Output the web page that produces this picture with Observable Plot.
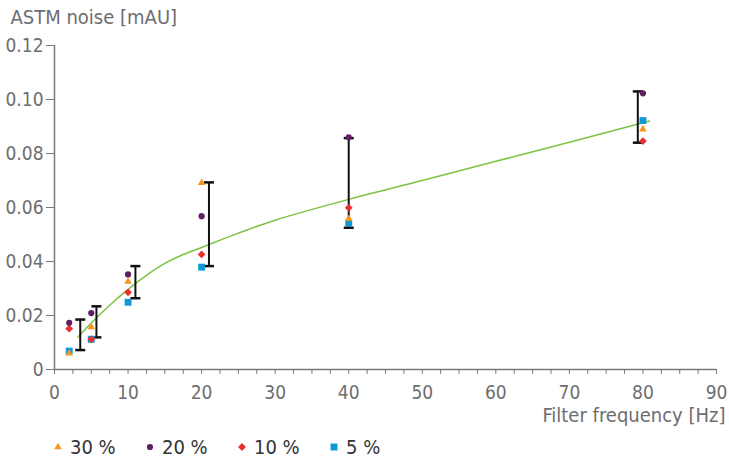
<!DOCTYPE html>
<html><head><meta charset="utf-8">
<script src="https://cdn.jsdelivr.net/npm/d3@7"></script>
<script src="https://cdn.jsdelivr.net/npm/@observablehq/plot@0.6"></script>
<style>
body{margin:0;background:#fff;font-family:"Liberation Sans Narrow","DejaVu Sans Condensed",sans-serif;}
#chart svg{display:block}
#legend{display:flex;padding-left:52px;height:33px;align-items:center;font-size:20px;color:#333;}
.item{display:flex;align-items:center;width:92px;}
.item svg{margin-right:6px;display:block}
</style></head><body>
<div id="chart"></div><div id="legend"></div>
<script>
// categories
const freqs = [2, 5, 10, 20, 40, 80];
const series = ["30 %", "20 %", "10 %", "5 %"];
// series values (ASTM noise, mAU)
const noise30 = [0.0060, 0.0157, 0.0326, 0.0691, 0.0558, 0.0890];
const noise20 = [0.0173, 0.0209, 0.0352, 0.0568, 0.0860, 0.1023];
const noise10 = [0.0151, 0.0112, 0.0286, 0.0426, 0.0599, 0.0846];
const noise5  = [0.0068, 0.0112, 0.0249, 0.0379, 0.0542, 0.0922];
// error bars
const errX    = [3.5, 5.7, 11, 21, 40, 79.3];
const errLow  = [0.0072, 0.0119, 0.0264, 0.0383, 0.0525, 0.0840];
const errHigh = [0.0185, 0.0234, 0.0383, 0.0693, 0.0857, 0.1030];
// fitted trend curve
const fitX = [3.2, 5, 7.5, 10, 12.5, 15, 17.5, 20, 25, 30, 40, 50, 60, 70, 80.9];
const fitY = [0.0120, 0.0172, 0.0238, 0.0297, 0.0349, 0.0393, 0.0426, 0.0452, 0.0505, 0.0553, 0.0630, 0.0700, 0.0771, 0.0842, 0.0920];
// ticks
const xTicks = [0, 10, 20, 30, 40, 50, 60, 70, 80, 90];
const xMinorTicks = d3.range(0, 90.01, 2.5);
const yTicks = [0, 0.02, 0.04, 0.06, 0.08, 0.10, 0.12];

const colors = ["#f7941d", "#5e1f63", "#e8312f", "#0f9ad6"];
const symbols = ["triangle", "circle", "diamond2", "square"];
const sizes = [2.8, 3.1, 3.5, 3.9];
const axisColor = "#7a7a7a";
const textColor = "#6d6e71";

const allValues = [noise30, noise20, noise10, noise5];
const points = [];
series.forEach((s, i) => freqs.forEach((f, j) => points.push({series: s, freq: f, noise: allValues[i][j]})));
const bars = errX.map((x, i) => ({x, lo: errLow[i], hi: errHigh[i]}));
const fit = fitX.map((x, i) => ({x, y: fitY[i]}));

const capSymbol = {draw(context) { context.moveTo(-5, 0); context.lineTo(5, 0); }};

const chart = Plot.plot({
  width: 729,
  height: 430,
  marginLeft: 54,
  marginRight: 13,
  marginTop: 45,
  marginBottom: 61,
  style: {fontFamily: '"Liberation Sans Narrow","DejaVu Sans Condensed",sans-serif', fontSize: "19px", color: textColor, background: "#fff"},
  x: {domain: [0, 90]},
  y: {domain: [0, 0.12]},
  symbol: {domain: series, range: symbols},
  color: {domain: series, range: colors},
  r: {type: "identity"},
  marks: [
    Plot.axisY(yTicks, {tickSize: 8, tickPadding: 3, stroke: axisColor, label: null,
      tickFormat: d => d === 0 ? "0" : d.toFixed(2)}),
    Plot.axisX(xMinorTicks, {tickSize: 5, tickPadding: 11, stroke: axisColor, label: null,
      tickFormat: d => d % 10 === 0 ? String(d) : ""}),
    Plot.ruleX([0], {stroke: axisColor, strokeWidth: 1.5}),
    Plot.ruleY([0], {stroke: axisColor, strokeWidth: 1.5}),
    Plot.line(fit, {x: "x", y: "y", curve: "catmull-rom", stroke: "#7dc242", strokeWidth: 1.5}),
    Plot.ruleX(bars, {x: "x", y1: "lo", y2: "hi", stroke: "#111", strokeWidth: 2}),
    Plot.dot(bars, {x: "x", y: "lo", symbol: capSymbol, stroke: "#111", strokeWidth: 2.5, r: 3}),
    Plot.dot(bars, {x: "x", y: "hi", symbol: capSymbol, stroke: "#111", strokeWidth: 2.5, r: 3}),
    Plot.dot(points, {x: "freq", y: "noise", symbol: "series", fill: "series",
      r: d => sizes[series.indexOf(d.series)], stroke: "none"}),
    Plot.text(["ASTM noise [mAU]"], {frameAnchor: "top-left", dx: -44, dy: -22, textAnchor: "start",
      lineAnchor: "bottom", fontSize: 20, fill: textColor}),
    Plot.text(["Filter frequency [Hz]"], {frameAnchor: "bottom-right", dx: 9, dy: 52, textAnchor: "end",
      lineAnchor: "bottom", fontSize: 20, fill: textColor})
  ]
});
document.getElementById("chart").append(chart);

// legend
const legend = d3.select("#legend");
const symMap = {triangle: d3.symbolTriangle, circle: d3.symbolCircle, diamond2: d3.symbolDiamond2, square: d3.symbolSquare};
series.forEach((s, i) => {
  const item = legend.append("div").attr("class", "item");
  const sw = item.append("svg").attr("width", 12).attr("height", 12);
  sw.append("path").attr("transform", "translate(6,6)")
    .attr("d", d3.symbol(symMap[symbols[i]], Math.PI * sizes[i] * sizes[i])())
    .attr("fill", colors[i]);
  item.append("span").text(s);
});
</script>
</body></html>
